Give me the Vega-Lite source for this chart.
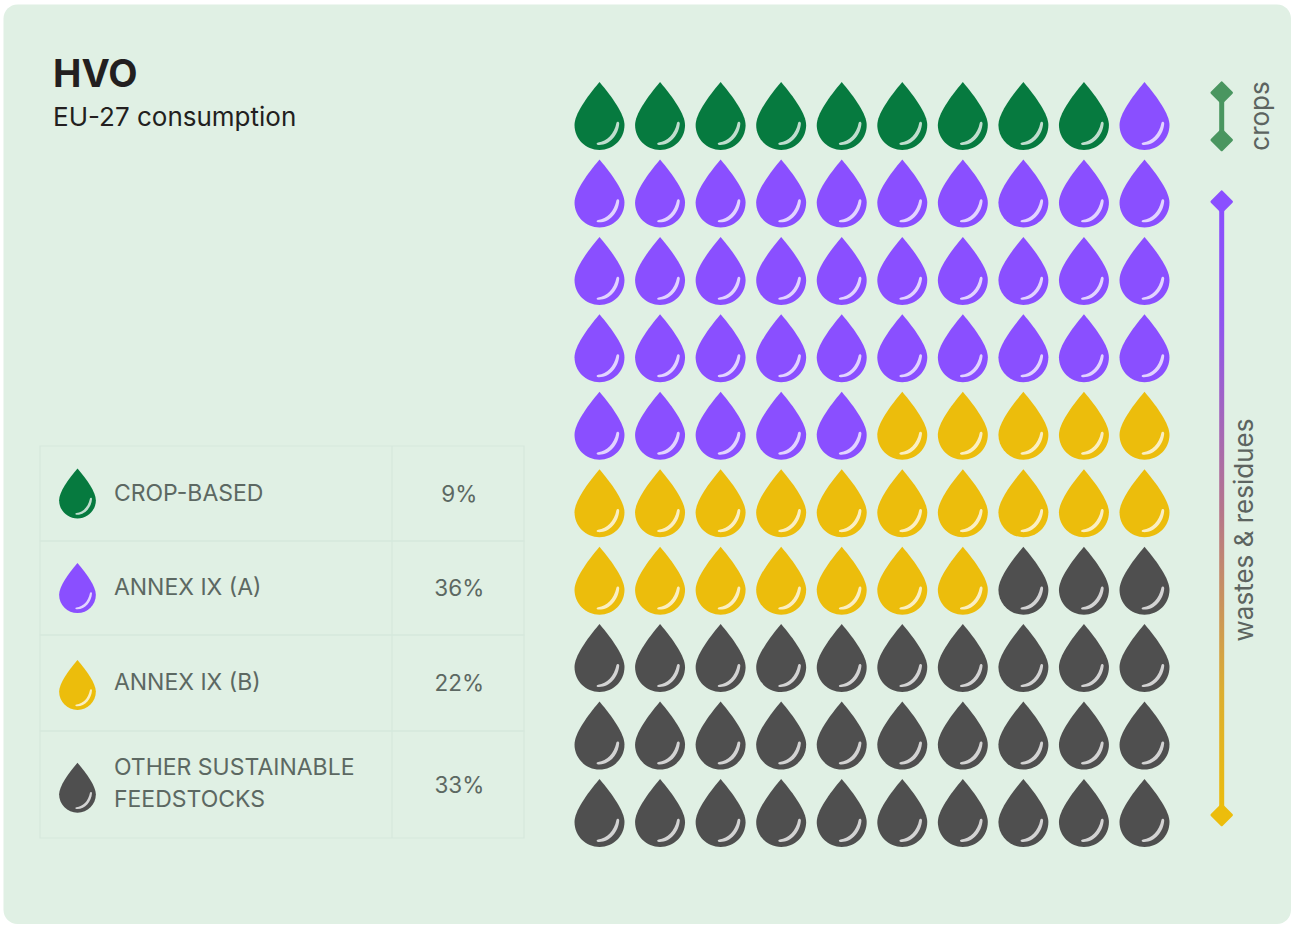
{
"$schema":"https://vega.github.io/schema/vega-lite/v6.json",
"width":1291,"height":925,
"autosize":{"type":"fit","contains":"padding"},
"padding":{"left":3.5,"top":4.5,"right":0,"bottom":1},
"background":"#ffffff",
"view":{"fill":"#e0f0e4","stroke":null,"cornerRadius":14},
"config":{"axis":{"disable":true},"legend":{"disable":true}},
"title":{"text":"HVO","subtitle":"EU-27 consumption","anchor":"start","frame":"group","orient":"top","offset":-126,"dx":49.5,"font":"Inter","fontSize":38,"fontWeight":700,"color":"#231f20","subtitleFont":"Inter","subtitleFontSize":26,"subtitleFontWeight":400,"subtitleColor":"#231f20","subtitlePadding":10},
"datasets":{
"waffle":[
{"col":1,"row":1,"category":"CROP-BASED"},{"col":2,"row":1,"category":"CROP-BASED"},{"col":3,"row":1,"category":"CROP-BASED"},{"col":4,"row":1,"category":"CROP-BASED"},{"col":5,"row":1,"category":"CROP-BASED"},{"col":6,"row":1,"category":"CROP-BASED"},{"col":7,"row":1,"category":"CROP-BASED"},{"col":8,"row":1,"category":"CROP-BASED"},{"col":9,"row":1,"category":"CROP-BASED"},{"col":10,"row":1,"category":"ANNEX IX (A)"},
{"col":1,"row":2,"category":"ANNEX IX (A)"},{"col":2,"row":2,"category":"ANNEX IX (A)"},{"col":3,"row":2,"category":"ANNEX IX (A)"},{"col":4,"row":2,"category":"ANNEX IX (A)"},{"col":5,"row":2,"category":"ANNEX IX (A)"},{"col":6,"row":2,"category":"ANNEX IX (A)"},{"col":7,"row":2,"category":"ANNEX IX (A)"},{"col":8,"row":2,"category":"ANNEX IX (A)"},{"col":9,"row":2,"category":"ANNEX IX (A)"},{"col":10,"row":2,"category":"ANNEX IX (A)"},
{"col":1,"row":3,"category":"ANNEX IX (A)"},{"col":2,"row":3,"category":"ANNEX IX (A)"},{"col":3,"row":3,"category":"ANNEX IX (A)"},{"col":4,"row":3,"category":"ANNEX IX (A)"},{"col":5,"row":3,"category":"ANNEX IX (A)"},{"col":6,"row":3,"category":"ANNEX IX (A)"},{"col":7,"row":3,"category":"ANNEX IX (A)"},{"col":8,"row":3,"category":"ANNEX IX (A)"},{"col":9,"row":3,"category":"ANNEX IX (A)"},{"col":10,"row":3,"category":"ANNEX IX (A)"},
{"col":1,"row":4,"category":"ANNEX IX (A)"},{"col":2,"row":4,"category":"ANNEX IX (A)"},{"col":3,"row":4,"category":"ANNEX IX (A)"},{"col":4,"row":4,"category":"ANNEX IX (A)"},{"col":5,"row":4,"category":"ANNEX IX (A)"},{"col":6,"row":4,"category":"ANNEX IX (A)"},{"col":7,"row":4,"category":"ANNEX IX (A)"},{"col":8,"row":4,"category":"ANNEX IX (A)"},{"col":9,"row":4,"category":"ANNEX IX (A)"},{"col":10,"row":4,"category":"ANNEX IX (A)"},
{"col":1,"row":5,"category":"ANNEX IX (A)"},{"col":2,"row":5,"category":"ANNEX IX (A)"},{"col":3,"row":5,"category":"ANNEX IX (A)"},{"col":4,"row":5,"category":"ANNEX IX (A)"},{"col":5,"row":5,"category":"ANNEX IX (A)"},{"col":6,"row":5,"category":"ANNEX IX (B)"},{"col":7,"row":5,"category":"ANNEX IX (B)"},{"col":8,"row":5,"category":"ANNEX IX (B)"},{"col":9,"row":5,"category":"ANNEX IX (B)"},{"col":10,"row":5,"category":"ANNEX IX (B)"},
{"col":1,"row":6,"category":"ANNEX IX (B)"},{"col":2,"row":6,"category":"ANNEX IX (B)"},{"col":3,"row":6,"category":"ANNEX IX (B)"},{"col":4,"row":6,"category":"ANNEX IX (B)"},{"col":5,"row":6,"category":"ANNEX IX (B)"},{"col":6,"row":6,"category":"ANNEX IX (B)"},{"col":7,"row":6,"category":"ANNEX IX (B)"},{"col":8,"row":6,"category":"ANNEX IX (B)"},{"col":9,"row":6,"category":"ANNEX IX (B)"},{"col":10,"row":6,"category":"ANNEX IX (B)"},
{"col":1,"row":7,"category":"ANNEX IX (B)"},{"col":2,"row":7,"category":"ANNEX IX (B)"},{"col":3,"row":7,"category":"ANNEX IX (B)"},{"col":4,"row":7,"category":"ANNEX IX (B)"},{"col":5,"row":7,"category":"ANNEX IX (B)"},{"col":6,"row":7,"category":"ANNEX IX (B)"},{"col":7,"row":7,"category":"ANNEX IX (B)"},{"col":8,"row":7,"category":"OTHER SUSTAINABLE FEEDSTOCKS"},{"col":9,"row":7,"category":"OTHER SUSTAINABLE FEEDSTOCKS"},{"col":10,"row":7,"category":"OTHER SUSTAINABLE FEEDSTOCKS"},
{"col":1,"row":8,"category":"OTHER SUSTAINABLE FEEDSTOCKS"},{"col":2,"row":8,"category":"OTHER SUSTAINABLE FEEDSTOCKS"},{"col":3,"row":8,"category":"OTHER SUSTAINABLE FEEDSTOCKS"},{"col":4,"row":8,"category":"OTHER SUSTAINABLE FEEDSTOCKS"},{"col":5,"row":8,"category":"OTHER SUSTAINABLE FEEDSTOCKS"},{"col":6,"row":8,"category":"OTHER SUSTAINABLE FEEDSTOCKS"},{"col":7,"row":8,"category":"OTHER SUSTAINABLE FEEDSTOCKS"},{"col":8,"row":8,"category":"OTHER SUSTAINABLE FEEDSTOCKS"},{"col":9,"row":8,"category":"OTHER SUSTAINABLE FEEDSTOCKS"},{"col":10,"row":8,"category":"OTHER SUSTAINABLE FEEDSTOCKS"},
{"col":1,"row":9,"category":"OTHER SUSTAINABLE FEEDSTOCKS"},{"col":2,"row":9,"category":"OTHER SUSTAINABLE FEEDSTOCKS"},{"col":3,"row":9,"category":"OTHER SUSTAINABLE FEEDSTOCKS"},{"col":4,"row":9,"category":"OTHER SUSTAINABLE FEEDSTOCKS"},{"col":5,"row":9,"category":"OTHER SUSTAINABLE FEEDSTOCKS"},{"col":6,"row":9,"category":"OTHER SUSTAINABLE FEEDSTOCKS"},{"col":7,"row":9,"category":"OTHER SUSTAINABLE FEEDSTOCKS"},{"col":8,"row":9,"category":"OTHER SUSTAINABLE FEEDSTOCKS"},{"col":9,"row":9,"category":"OTHER SUSTAINABLE FEEDSTOCKS"},{"col":10,"row":9,"category":"OTHER SUSTAINABLE FEEDSTOCKS"},
{"col":1,"row":10,"category":"OTHER SUSTAINABLE FEEDSTOCKS"},{"col":2,"row":10,"category":"OTHER SUSTAINABLE FEEDSTOCKS"},{"col":3,"row":10,"category":"OTHER SUSTAINABLE FEEDSTOCKS"},{"col":4,"row":10,"category":"OTHER SUSTAINABLE FEEDSTOCKS"},{"col":5,"row":10,"category":"OTHER SUSTAINABLE FEEDSTOCKS"},{"col":6,"row":10,"category":"OTHER SUSTAINABLE FEEDSTOCKS"},{"col":7,"row":10,"category":"OTHER SUSTAINABLE FEEDSTOCKS"},{"col":8,"row":10,"category":"OTHER SUSTAINABLE FEEDSTOCKS"},{"col":9,"row":10,"category":"OTHER SUSTAINABLE FEEDSTOCKS"},{"col":10,"row":10,"category":"OTHER SUSTAINABLE FEEDSTOCKS"}
],
"table":[
{"category":"CROP-BASED","label":"CROP-BASED","share":"9%","rowStart":0,"rowEnd":1,"rowMid":0.5,"iconMid":0.5},
{"category":"ANNEX IX (A)","label":"ANNEX IX (A)","share":"36%","rowStart":1,"rowEnd":2,"rowMid":1.5,"iconMid":1.5},
{"category":"ANNEX IX (B)","label":"ANNEX IX (B)","share":"22%","rowStart":2,"rowEnd":3,"rowMid":2.5,"iconMid":2.52},
{"category":"OTHER SUSTAINABLE FEEDSTOCKS","label":"OTHER SUSTAINABLE\nFEEDSTOCKS","share":"33%","rowStart":3,"rowEnd":4,"rowMid":3.5,"iconMid":3.53}
],
"endpoints":[{"bracket":"crops","end":1},{"bracket":"crops","end":2},{"bracket":"wastes & residues","end":3},{"bracket":"wastes & residues","end":4}],
"brackets":[{"bracket":"crops","from":1,"to":2},{"bracket":"wastes & residues","from":3,"to":4}]
},
"resolve":{"scale":{"x":"independent","y":"independent","color":"independent"}},
"layer":[
{
"data":{"name":"table"},
"encoding":{},
"layer":[
{"mark":{"type":"rect","fill":null,"stroke":"#d6e8dc","strokeWidth":1.2},
 "encoding":{
  "x":{"datum":0,"type":"quantitative","scale":{"domain":[0,1,2],"range":[36.5,388.5,520.5]}},
  "x2":{"datum":2},
  "y":{"field":"rowStart","type":"quantitative","scale":{"domain":[0,1,2,3,4],"range":[441.5,536.5,630.5,726.5,833.5]}},
  "y2":{"field":"rowEnd"}}},
{"mark":{"type":"rule","stroke":"#d6e8dc","strokeWidth":1.2},
 "encoding":{
  "x":{"datum":1,"type":"quantitative"},
  "y":{"field":"rowStart","type":"quantitative"},
  "y2":{"field":"rowEnd"}}},
{"mark":{"type":"point","shape":"M0,-1C0.38,-0.55 0.735,-0.05 0.735,0.265C0.735,0.67 0.406,1 0,1C-0.406,1 -0.735,0.67 -0.735,0.265C-0.735,-0.05 -0.38,-0.55 0,-1Z","filled":true,"size":2500,"opacity":1},
 "encoding":{
  "x":{"datum":0.1065,"type":"quantitative"},
  "y":{"field":"iconMid","type":"quantitative"},
  "color":{"field":"category","type":"nominal","scale":{"domain":["CROP-BASED","ANNEX IX (A)","ANNEX IX (B)","OTHER SUSTAINABLE FEEDSTOCKS"],"range":["#067a3f","#8a4fff","#ecbd0c","#4f4f4f"]}}}},
{"mark":{"type":"point","shape":"M-0.04,0.78C0.22,0.75 0.43,0.54 0.5,0.2C0.51,0.16 0.58,0.16 0.58,0.22C0.56,0.55 0.3,0.87 -0.04,0.85C-0.1,0.84 -0.1,0.79 -0.04,0.78Z","filled":true,"size":2500,"opacity":0.75,"color":"#ffffff"},
 "encoding":{
  "x":{"datum":0.1065,"type":"quantitative"},
  "y":{"field":"iconMid","type":"quantitative"}}},
{"transform":[{"filter":"datum.rowStart < 3"}],
 "mark":{"type":"text","align":"left","baseline":"middle","font":"Inter","fontSize":23,"color":"#5c6862"},
 "encoding":{
  "x":{"datum":0.21,"type":"quantitative"},
  "y":{"field":"rowMid","type":"quantitative"},
  "text":{"field":"label"}}},
{"transform":[{"filter":"datum.rowStart === 3"}],
 "mark":{"type":"text","align":"left","baseline":"middle","font":"Inter","fontSize":23,"color":"#5c6862","lineBreak":"\n","lineHeight":32,"dy":-17},
 "encoding":{
  "x":{"datum":0.21,"type":"quantitative"},
  "y":{"field":"rowMid","type":"quantitative"},
  "text":{"field":"label"}}},
{"mark":{"type":"text","align":"center","baseline":"middle","font":"Inter","fontSize":22.5,"color":"#5c6862","dy":1},
 "encoding":{
  "x":{"datum":1.51,"type":"quantitative"},
  "y":{"field":"rowMid","type":"quantitative"},
  "text":{"field":"share"}}}
]},
{
"data":{"name":"waffle"},
"encoding":{
 "x":{"field":"col","type":"quantitative","scale":{"domain":[1,10],"range":[596,1141]}},
 "y":{"field":"row","type":"quantitative","scale":{"domain":[1,10],"range":[111.5,808.5]}}},
"layer":[
{"mark":{"type":"point","shape":"M0,-1C0.38,-0.55 0.735,-0.05 0.735,0.265C0.735,0.67 0.406,1 0,1C-0.406,1 -0.735,0.67 -0.735,0.265C-0.735,-0.05 -0.38,-0.55 0,-1Z","filled":true,"size":4624,"opacity":1},
 "encoding":{"color":{"field":"category","type":"nominal","scale":{"domain":["CROP-BASED","ANNEX IX (A)","ANNEX IX (B)","OTHER SUSTAINABLE FEEDSTOCKS"],"range":["#067a3f","#8a4fff","#ecbd0c","#4f4f4f"]}}}},
{"mark":{"type":"point","shape":"M-0.04,0.78C0.22,0.75 0.43,0.54 0.5,0.2C0.51,0.16 0.58,0.16 0.58,0.22C0.56,0.55 0.3,0.87 -0.04,0.85C-0.1,0.84 -0.1,0.79 -0.04,0.78Z","filled":true,"size":4624,"opacity":0.75,"color":"#ffffff"}}
]},
{
"layer":[
{"data":{"name":"brackets"},"transform":[{"filter":"datum.bracket === 'crops'"}],
 "mark":{"type":"bar","orient":"vertical","size":5,"color":"#4a9660"},
 "encoding":{
  "x":{"datum":0,"type":"quantitative","scale":{"domain":[0,1],"range":[1218.2,1290],"padding":0}},
  "y":{"field":"from","type":"quantitative","scale":{"domain":[1,2,3,4],"range":[88.2,135.5,197.2,810.5]}},
  "y2":{"field":"to"}}},
{"data":{"name":"brackets"},"transform":[{"filter":"datum.bracket !== 'crops'"}],
 "mark":{"type":"bar","orient":"vertical","size":5,"fill":{"gradient":"linear","x1":0,"y1":0,"x2":0,"y2":1,"stops":[{"offset":0,"color":"#8a4fff"},{"offset":0.2,"color":"#9056ee"},{"offset":0.5,"color":"#b5758c"},{"offset":0.8,"color":"#dcae30"},{"offset":1,"color":"#ecbd0c"}]}},
 "encoding":{
  "x":{"datum":0,"type":"quantitative"},
  "y":{"field":"from","type":"quantitative"},
  "y2":{"field":"to"}}},
{"data":{"name":"endpoints"},
 "mark":{"type":"point","shape":"diamond","filled":true,"size":380,"opacity":1,"strokeWidth":3,"strokeJoin":"round"},
 "encoding":{
  "x":{"datum":0,"type":"quantitative"},
  "y":{"field":"end","type":"quantitative"},
  "fill":{"field":"end","type":"nominal","scale":{"domain":[1,2,3,4],"range":["#4a9660","#4a9660","#8a4fff","#ecbd0c"]}},
  "stroke":{"field":"end","type":"nominal","scale":{"domain":[1,2,3,4],"range":["#4a9660","#4a9660","#8a4fff","#ecbd0c"]}}}}
]},
{
"data":{"name":"brackets"},
"mark":{"type":"text","angle":270,"align":"center","baseline":"middle","font":"Inter","fontSize":26,"color":"#5c6460"},
"encoding":{
 "x":{"field":"bracket","type":"nominal","scale":{"type":"point","padding":0,"domain":["crops","wastes & residues"],"range":[1257.5,1241]}},
 "y":{"field":"bracket","type":"nominal","scale":{"type":"point","padding":0,"domain":["crops","wastes & residues"],"range":[111.5,525.5]}},
 "text":{"field":"bracket"}}
}
]
}
